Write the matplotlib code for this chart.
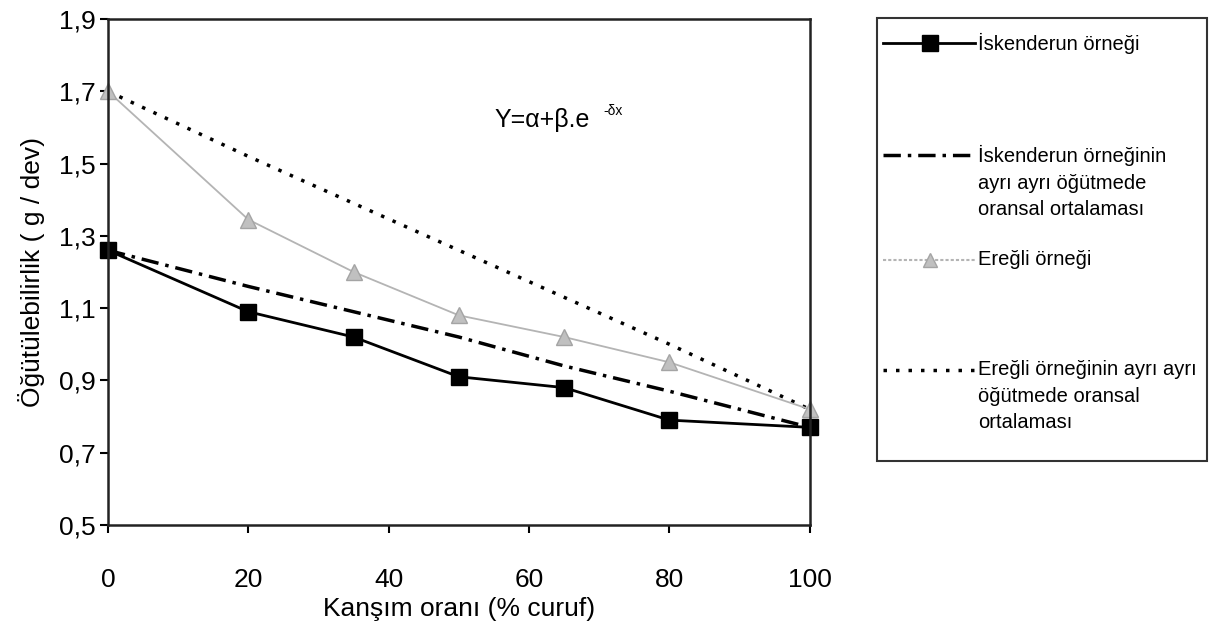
import matplotlib.pyplot as plt
from matplotlib.lines import Line2D

# karışım oranı (% cüruf)
x = [0, 20, 35, 50, 65, 80, 100]

# öğütülebilirlik değerleri (g / dev)
iskenderun = [1.26, 1.09, 1.02, 0.91, 0.88, 0.79, 0.77]
iskenderun_ort = [1.26, 1.16, 1.09, 1.02, 0.94, 0.87, 0.77]
eregli = [1.70, 1.345, 1.20, 1.08, 1.02, 0.95, 0.82]
eregli_ort = [1.70, 1.52, 1.39, 1.26, 1.13, 1.00, 0.82]

xticks = [0, 20, 40, 60, 80, 100]
yticks = [0.5, 0.7, 0.9, 1.1, 1.3, 1.5, 1.7, 1.9]
ytick_labels = ["0,5", "0,7", "0,9", "1,1", "1,3", "1,5", "1,7", "1,9"]

legend_labels = [
    "İskenderun örneği",
    "İskenderun örneğinin\nayrı ayrı öğütmede\noransal ortalaması",
    "Ereğli örneği",
    "Ereğli örneğinin ayrı ayrı\nöğütmede oransal\nortalaması",
]

plt.rcParams["font.family"] = ["Liberation Sans", "DejaVu Sans"]

fig = plt.figure(figsize=(12.14, 6.37), dpi=100)
ax = fig.add_axes([0.089, 0.176, 0.578, 0.794])

dashdot = (0, (5, 2, 1, 2))
dotted = (0, (1, 2.6))
gray = "#b4b4b4"

ax.plot(x, eregli_ort, color="black", lw=2.5, linestyle=dotted)
ax.plot(x, iskenderun_ort, color="black", lw=2.5, linestyle=dashdot)
ax.plot(x, eregli, color=gray, lw=1.3, marker="^", markersize=11,
        markerfacecolor="#c0c0c0", markeredgecolor="#a4a4a4")
ax.plot(x, iskenderun, color="black", lw=2, marker="s", markersize=11,
        markerfacecolor="black", markeredgecolor="black")

ax.set_xlim(0, 100)
ax.set_ylim(0.5, 1.9)
ax.set_xticks(xticks)
ax.set_xticklabels([str(v) for v in xticks])
ax.set_yticks(yticks)
ax.set_yticklabels(ytick_labels)
ax.tick_params(axis="both", labelsize=19, direction="out", length=6, width=1.5,
               colors="black")
ax.tick_params(axis="x", pad=25)
ax.tick_params(axis="y", pad=3)
for s in ax.spines.values():
    s.set_linewidth(1.8)
    s.set_color("#222222")
for c in ax.get_children():
    if isinstance(c, Line2D):
        c.set_clip_on(False)

ax.set_xlabel("Kanşım oranı (% curuf)", fontsize=19, labelpad=4)
ax.set_ylabel("Öğütülebilirlik ( g / dev)", fontsize=19, labelpad=10)

ax.text(0.551, 0.800, "Y=α+β.e", transform=ax.transAxes,
        ha="left", va="center", fontsize=18)
ax.text(0.706, 0.818, "-δx", transform=ax.transAxes,
        ha="left", va="center", fontsize=10)

# legend kutusu
W, H = 1214, 637
box = plt.Rectangle((877 / W, 1 - 461 / H), 330 / W, 443 / H, transform=fig.transFigure,
                    fill=False, edgecolor="#333333", lw=1.5)
fig.add_artist(box)

handles = [
    dict(color="black", lw=2, linestyle="-", marker="s", ms=11, mfc="black", mec="black"),
    dict(color="black", lw=2.5, linestyle=dashdot, marker=None),
    dict(color=gray, lw=1.5, linestyle=(0, (1.5, 1)), marker="^", ms=10, mfc="#c0c0c0", mec="#a4a4a4"),
    dict(color="black", lw=2.5, linestyle=dotted, marker=None),
]
rows = [43, 155, 260, 370]
for lbl, h, yp in zip(legend_labels, handles, rows):
    yf = 1 - yp / H
    kw = dict(h)
    mk = kw.pop("marker")
    fig.add_artist(Line2D([883 / W, 975 / W], [yf, yf], transform=fig.transFigure,
                          color=kw["color"], lw=kw["lw"], linestyle=kw["linestyle"]))
    if mk:
        fig.add_artist(Line2D([930 / W], [yf], transform=fig.transFigure, marker=mk,
                              markersize=kw["ms"], markerfacecolor=kw["mfc"],
                              markeredgecolor=kw["mec"], linestyle="none"))
    fig.text(978 / W, yf + 10 / H, lbl, fontsize=14.5, va="top", ha="left",
             linespacing=1.5, transform=fig.transFigure)

fig.savefig("out.png", dpi=100)
